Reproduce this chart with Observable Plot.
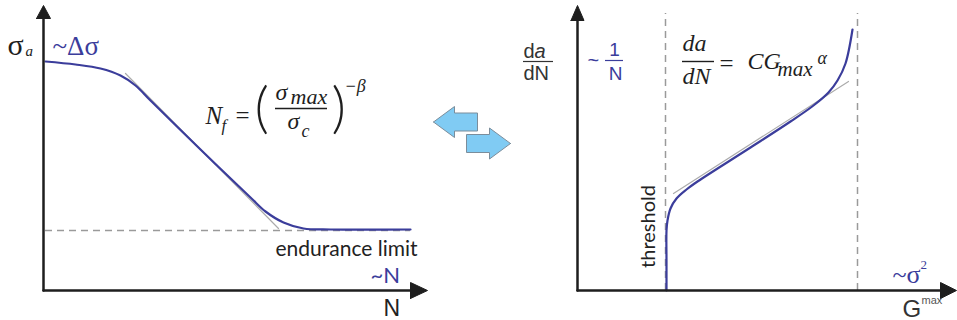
<!DOCTYPE html>
<html>
<head>
<meta charset="utf-8">
<script src="https://cdn.jsdelivr.net/npm/d3@7"></script>
<script src="https://cdn.jsdelivr.net/npm/@observablehq/plot@0.6"></script>
<style>
  body { margin: 0; background: #fff; }
  #diagram { display: flex; width: 957px; height: 320px; }
  #diagram svg { display: block; overflow: visible; }
</style>
</head>
<body>
<div id="diagram"></div>
<script>
// ---- Left panel: S–N curve, stress amplitude σa against cycles N ----
const snCurve = [
  [2, 229], [32, 226], [57, 222], [77, 215], [92, 205], [107, 190],
  [157, 141], [207, 93], [222, 79], [240, 68], [260, 62], [287, 61], [367, 61]
];
const basquinTangent = [[82, 217], [235, 62]];
const enduranceLimit = [60];
const snAxisEnds = { N: 367, S: 272 };

// ---- Right panel: crack growth rate da/dN against G^max ----
const growthCurve = [
  [89, 0], [89, 30], [89, 60], [90, 70], [93, 82], [99, 92], [109, 101],
  [120, 109], [173, 143], [213, 169], [236, 185], [251, 198], [260, 210],
  [268, 227], [275, 261]
];
const parisTangent = [[96, 97], [271, 209]];
const regimeBounds = [88, 280]; // threshold and critical G^max
const growthAxisEnds = { G: 363, R: 270 };

// ---- Swap arrows between the panels (tip position, direction) ----
const swapArrows = [
  { tip: [390, 168.5], dir: -1 },
  { tip: [467, 147], dir: 1 }
];

const BLUE = "#3b3d9b";
const INK = "#1e1e1e";
const SERIF = "Liberation Serif, serif";
const SANS = "Liberation Sans, sans-serif";
const CALIBRI = "Lato, sans-serif";

function arrowHead(bx, by, dir, len, half) {
  return dir === "up"
    ? [[bx - half, by], [bx + half, by], [bx, by + len], [bx - half, by]]
    : [[bx, by - half], [bx, by + half], [bx + len, by], [bx, by - half]];
}

function blockArrow({ tip: [tx, ty], dir }, length = 44, head = 21, bodyHalf = 9, headHalf = 15.5) {
  const b = tx - dir * head, e = tx - dir * length;
  return [[tx, ty], [b, ty + headHalf], [b, ty + bodyHalf], [e, ty + bodyHalf],
          [e, ty - bodyHalf], [b, ty - bodyHalf], [b, ty - headHalf], [tx, ty]];
}

function label(str, x, y, o = {}) {
  return Plot.text([str], {
    x, y, text: d => d, lineAnchor: "bottom", textAnchor: "start",
    fontFamily: SERIF, fontSize: 24, fill: INK, ...o
  });
}
const italic = { fontStyle: "italic" };
const paren = { fontFamily: CALIBRI, fontWeight: 300, fontSize: 56 };
const px = d => d[0], py = d => d[1];

// Left panel (also holds the swap arrows)
const left = Plot.plot({
  width: 520, height: 320,
  marginLeft: 43, marginRight: 0, marginTop: 0, marginBottom: 30,
  x: { domain: [0, 477], axis: null },
  y: { domain: [0, 290], axis: null },
  marks: [
    Plot.ruleY(enduranceLimit, { x1: 2, x2: 367, stroke: "#9a9a9a", strokeWidth: 1.5, strokeDasharray: "7,5" }),
    Plot.line(basquinTangent, { x: px, y: py, stroke: "#ababab", strokeWidth: 1.2 }),
    Plot.line(snCurve, { x: px, y: py, stroke: BLUE, strokeWidth: 2.2, curve: "catmull-rom" }),
    // axes
    Plot.line([[0, 0], [0, snAxisEnds.S]], { x: px, y: py, stroke: INK, strokeWidth: 2.5 }),
    Plot.line([[0, 0], [snAxisEnds.N, 0]], { x: px, y: py, stroke: INK, strokeWidth: 2.5 }),
    Plot.line(arrowHead(0, snAxisEnds.S, "up", 13, 7), { x: px, y: py, fill: INK, stroke: INK, strokeWidth: 1 }),
    Plot.line(arrowHead(snAxisEnds.N, 0, "right", 17, 8), { x: px, y: py, fill: INK, stroke: INK, strokeWidth: 1 }),
    // swap arrows
    ...swapArrows.map(a => Plot.line(blockArrow(a), {
      x: px, y: py, fill: "#80cbf3", stroke: "#7b8d9b", strokeWidth: 1, strokeLinejoin: "miter"
    })),
    // axis labels
    label("σ", -36, 236, { fontSize: 30 }),
    label("a", -18, 235, { fontSize: 15, ...italic }),
    label("~Δσ", 9, 236, { fontSize: 27, fill: BLUE }),
    label("~N", 327, 8, { fontFamily: CALIBRI, fontSize: 22, fill: BLUE }),
    label("N", 340, -25, { fontFamily: SANS, fontSize: 23, fill: "#222" }),
    label("endurance limit", 232, 35, { fontFamily: CALIBRI, fontSize: 21, fill: "#222" }),
    // Basquin relation
    label("N", 162, 167, { fontSize: 25, ...italic }),
    label("f", 178, 160, { fontSize: 17, ...italic }),
    label("=", 192, 167, { fontSize: 25 }),
    label("(", 211, 164, paren),
    label("σ", 232, 191, { fontSize: 24, ...italic }),
    label("max", 247, 187, { fontSize: 22, ...italic }),
    Plot.ruleY([182], { x1: 232, x2: 284, stroke: INK, strokeWidth: 1.4 }),
    label("σ", 244, 162, { fontSize: 24, ...italic }),
    label("c", 258, 154, { fontSize: 18, ...italic }),
    label(")", 288, 164, paren),
    label("−β", 301, 199, { fontSize: 18, ...italic })
  ]
});

// Right panel
const right = Plot.plot({
  width: 437, height: 320,
  marginLeft: 57, marginRight: 0, marginTop: 0, marginBottom: 30,
  x: { domain: [0, 380], axis: null },
  y: { domain: [0, 290], axis: null },
  marks: [
    Plot.ruleX(regimeBounds, { y1: 0, y2: 277, stroke: "#9a9a9a", strokeWidth: 1.5, strokeDasharray: "7,5" }),
    Plot.line(parisTangent, { x: px, y: py, stroke: "#ababab", strokeWidth: 1.2 }),
    Plot.line(growthCurve, { x: px, y: py, stroke: BLUE, strokeWidth: 2.2, curve: "catmull-rom" }),
    // axes
    Plot.line([[0, 0], [0, growthAxisEnds.R]], { x: px, y: py, stroke: INK, strokeWidth: 2.5 }),
    Plot.line([[0, 0], [growthAxisEnds.G, 0]], { x: px, y: py, stroke: INK, strokeWidth: 2.5 }),
    Plot.line(arrowHead(0, growthAxisEnds.R, "up", 15, 6.5), { x: px, y: py, fill: INK, stroke: INK, strokeWidth: 1 }),
    Plot.line(arrowHead(growthAxisEnds.G, 0, "right", 16, 8), { x: px, y: py, fill: INK, stroke: INK, strokeWidth: 1 }),
    // y label da/dN
    label("d", -54, 233, { fontFamily: SANS, fontSize: 20, fill: "#333" }),
    label("a", -43, 233, { fontFamily: SANS, fontSize: 20, fill: "#333", ...italic }),
    Plot.ruleY([229], { x1: -54, x2: -24, stroke: "#333", strokeWidth: 1.2 }),
    label("dN", -54, 211, { fontFamily: SANS, fontSize: 20, fill: "#333" }),
    // ~ 1/N
    label("~", 10, 224, { fontFamily: SANS, fontSize: 20, fill: BLUE }),
    label("1", 37, 235, { fontFamily: SANS, fontSize: 19, fill: BLUE, textAnchor: "middle" }),
    Plot.ruleY([230], { x1: 28, x2: 46, stroke: BLUE, strokeWidth: 1.2 }),
    label("N", 38, 211, { fontFamily: SANS, fontSize: 19, fill: BLUE, textAnchor: "middle" }),
    // Paris law
    label("da", 105, 240, { fontSize: 24, ...italic }),
    Plot.ruleY([229], { x1: 105, x2: 137, stroke: INK, strokeWidth: 1.4 }),
    label("dN", 105, 207, { fontSize: 24, ...italic }),
    label("=", 142, 219, { fontSize: 25 }),
    label("CG", 170, 222, { fontSize: 24, ...italic }),
    label("max", 200, 215, { fontSize: 21, ...italic }),
    label("α", 240, 227, { fontSize: 18, ...italic }),
    // regime and axis labels
    label("threshold", 71, 64, { fontFamily: CALIBRI, fontSize: 20, fill: "#222", rotate: -90, textAnchor: "middle", lineAnchor: "middle" }),
    label("~σ", 315, 8, { fontSize: 26, fill: BLUE }),
    label("2", 343, 22, { fontSize: 13, fill: BLUE }),
    label("G", 325, -26, { fontFamily: SANS, fontSize: 24, fill: "#333" }),
    label("max", 344, -13, { fontFamily: SANS, fontSize: 11, fill: "#555" })
  ]
});

const host = document.getElementById("diagram");
host.append(left, right);
</script>
</body>
</html>
